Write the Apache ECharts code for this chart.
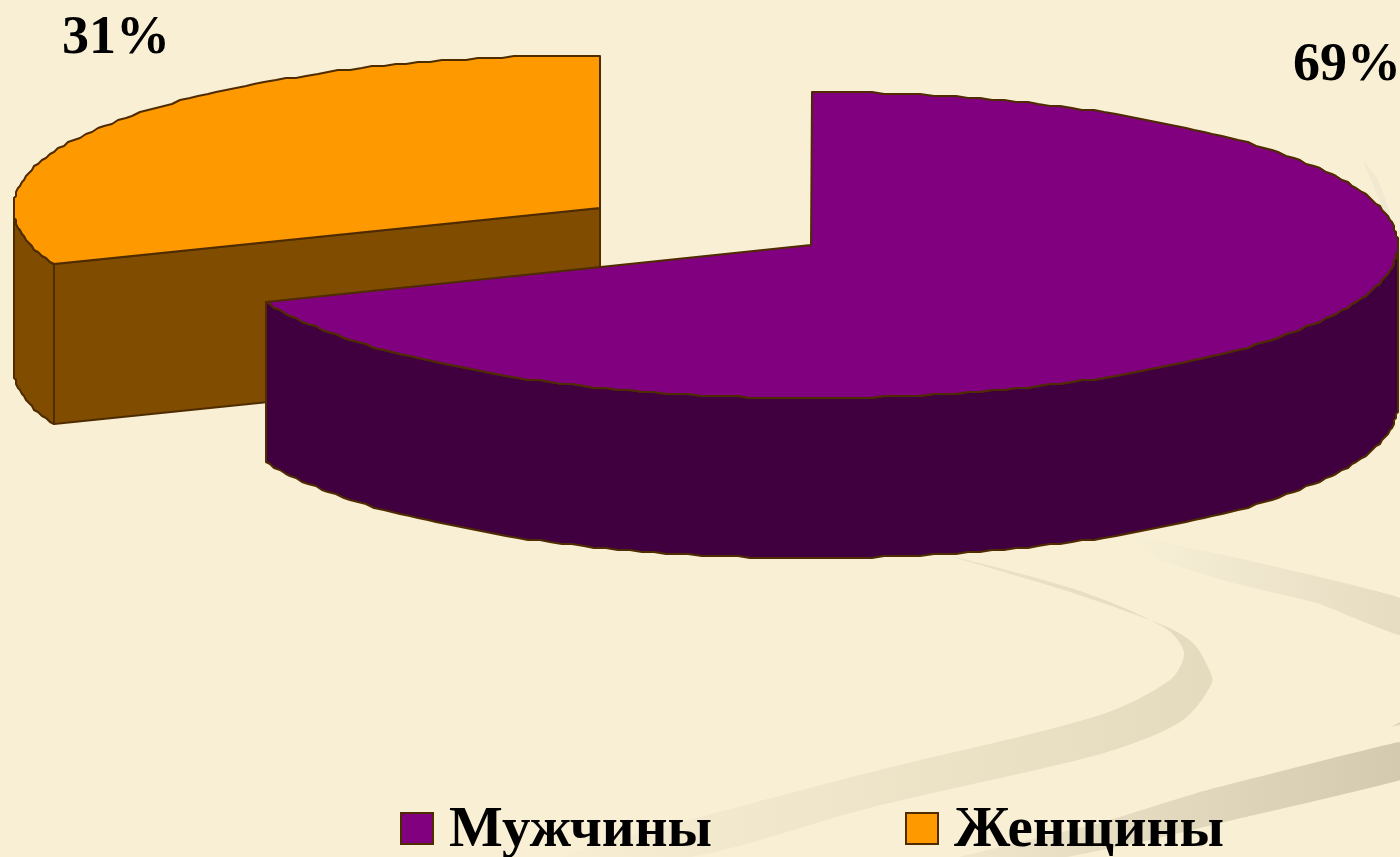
<!DOCTYPE html>
<html>
<head>
<meta charset="utf-8">
<title>Мужчины и женщины</title>
<script src="https://cdn.jsdelivr.net/npm/echarts@6/dist/echarts.min.js"></script>
<style>
  html, body { margin: 0; padding: 0; background: #f8efd4; }
  #chart { width: 1400px; height: 857px; }
</style>
</head>
<body>
<div id="chart"></div>
<script>
// values
const categories = ['Мужчины', 'Женщины']
const shares = [69, 31]
const shareLabels = ['69%', '31%']

// slice look, same order as categories
const topColors = ['#800080', '#ff9900']
const wallColors = ['#400040', '#7f4c00']
const edgeColor = '#4f2c00'
const sliceCenters = [[811, 245], [600, 208]]
const labelPositions = [[1347, 66], [116, 39]]
const legendLefts = [400, 905]

const rx = 587
const ry = 153
const depth = 160
const total = shares.reduce((a, b) => a + b, 0)

// point on the rim, share is counted clockwise from 12 o'clock
function rim(c, share) {
  const a = share / total * Math.PI * 2
  // the original outline is a bit stepped, so snap it to a small grid
  return [
    Math.round((c[0] + Math.sin(a) * rx) / 2) * 2,
    Math.round((c[1] - Math.cos(a) * ry) / 2) * 2
  ]
}

function arcPoints(c, from, to) {
  const pts = []
  const n = Math.max(2, Math.ceil((to - from) * 3))
  for (let i = 0; i <= n; i++) {
    pts.push(rim(c, from + (to - from) * i / n))
  }
  return pts
}

function down(pts) {
  return pts.map(p => [p[0], p[1] + depth])
}

function poly(points, fill) {
  return {
    type: 'polygon',
    shape: { points: points },
    style: { fill: fill, stroke: edgeColor, lineWidth: 2, lineJoin: 'round' }
  }
}

function renderSlice(params, api) {
  const i = params.seriesIndex === 0 ? 1 : 0
  const from = api.value(0)
  const to = from + api.value(1)
  const c = sliceCenters[i]
  const children = []

  // outer wall, only the front half of the rim is seen
  const wallFrom = Math.max(from, total / 4)
  const wallTo = Math.min(to, total * 3 / 4)
  if (wallTo > wallFrom) {
    const arc = arcPoints(c, wallFrom, wallTo)
    children.push(poly(arc.concat(down(arc).reverse()), wallColors[i]))
  }
  // cut face, seen when it looks towards the viewer
  if (from > total / 2 && from < total) {
    const p = [c, rim(c, from)]
    children.push(poly(p.concat(down(p).reverse()), wallColors[i]))
  }
  children.push(poly([c].concat(arcPoints(c, from, to)), topColors[i]))
  children.push({
    type: 'text',
    x: labelPositions[i][0],
    y: labelPositions[i][1],
    style: {
      text: shareLabels[i],
      font: 'bold 54px "Liberation Serif"',
      fill: '#000',
      align: 'center',
      verticalAlign: 'middle'
    }
  })
  return { type: 'group', children: children }
}

// decorative swooshes of the slide background
function swoosh(points, left, right, smooth) {
  return {
    type: 'polygon',
    silent: true,
    z: 0,
    shape: { points: points, smooth: smooth },
    style: {
      fill: new echarts.graphic.LinearGradient(0, 0, 1, 0, [
        { offset: 0, color: left },
        { offset: 1, color: right }
      ])
    }
  }
}

const backdrop = [
  swoosh([[950, 556], [1077, 590], [1165, 628], [1184, 653], [1170, 680], [1100, 715], [900, 765], [840, 780], [590, 847], [565, 857],
    [690, 857], [869, 808], [1057, 765], [1123, 747], [1183, 720], [1212, 683], [1208, 667], [1193, 643], [1165, 626], [1070, 592]],
    '#f6edd2', '#e4dbbf', 0.3),
  swoosh([[1133, 537], [1233, 557], [1400, 598], [1400, 635], [1317, 603], [1233, 583], [1160, 560]], '#f7efd6', '#e5dcc2', 0.1),
  swoosh([[1400, 742], [1200, 792], [1100, 823], [960, 857], [1067, 857], [1150, 840], [1233, 820], [1400, 780]], '#efe6cb', '#d3caaf', 0.05),
  swoosh([[1363, 160], [1378, 180], [1390, 213], [1385, 213], [1372, 182]], '#f1e9d0', '#efe7cf', 0.1),
  swoosh([[1391, 727], [1400, 722], [1400, 725]], '#e4dbc1', '#dcd3b8', 0)
]

// running start of every slice, the orange one is drawn first so the purple covers it
const starts = shares.map((_, i) => shares.slice(0, i).reduce((a, b) => a + b, 0))

const chart = echarts.init(document.getElementById('chart'))

chart.setOption({
  animation: false,
  backgroundColor: '#f8efd4',
  graphic: { elements: backdrop },
  legend: categories.map((name, i) => ({
    data: [name],
    left: legendLefts[i],
    top: 803,
    padding: 0,
    icon: 'rect',
    itemWidth: 32,
    itemHeight: 31,
    itemStyle: { color: topColors[i], borderColor: edgeColor, borderWidth: 2 },
    formatter: '{t|{name}}',
    textStyle: {
      rich: {
        t: {
          fontFamily: 'Liberation Serif',
          fontWeight: 'bold',
          fontSize: 57,
          color: '#000',
          padding: [6, 0, 0, 11]
        }
      }
    }
  })),
  series: [1, 0].map(i => ({
    type: 'custom',
    name: categories[i],
    coordinateSystem: 'none',
    z: 2,
    itemStyle: { color: topColors[i] },
    renderItem: renderSlice,
    data: [[starts[i], shares[i]]]
  }))
})

window.addEventListener('resize', chart.resize)
</script>
</body>
</html>
